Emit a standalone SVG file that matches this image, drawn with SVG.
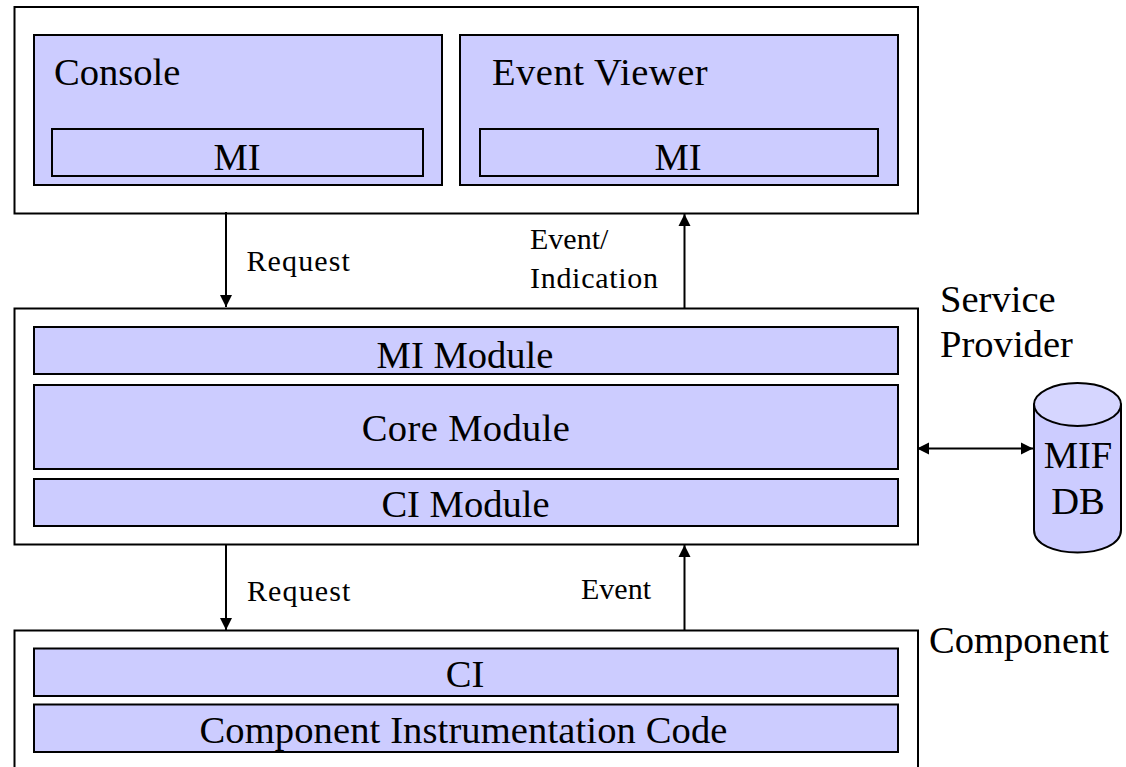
<svg xmlns="http://www.w3.org/2000/svg" width="1126" height="767" viewBox="0 0 1126 767">
<style>
.o{fill:#fff;stroke:#000;stroke-width:2}
.b{fill:#ccccff;stroke:#000;stroke-width:2}
.t{fill:#d6d6ff;stroke:#000;stroke-width:2}
text{font-family:"Liberation Serif","Times New Roman",serif;fill:#000}
.l{font-size:38.600px}
.s{font-size:30px}
.m{text-anchor:middle}
.c{fill:none;stroke:#000;stroke-width:2}
</style>
<defs>
<marker id="a" markerUnits="userSpaceOnUse" markerWidth="13" markerHeight="13" refX="12" refY="6.500" orient="auto-start-reverse"><path d="M0 0.500L12 6.500L0 12.500Z" fill="#000"/></marker>
</defs>
<rect width="1126" height="767" fill="#fff"/>
<g id="top"><rect class="o" x="14.500" y="7" width="903.500" height="206.500"/></g>
<g id="console"><rect class="b" x="34" y="35" width="408" height="150"/><text class="l" x="54" y="85">Console</text></g>
<g id="console-mi"><rect class="b" x="52" y="129" width="371" height="47"/><text class="l m" x="237" y="170">MI</text></g>
<g id="viewer"><rect class="b" x="460" y="35" width="438" height="150"/><text class="l" x="492" y="85" letter-spacing="0.500">Event Viewer</text></g>
<g id="viewer-mi"><rect class="b" x="480" y="129" width="398" height="47"/><text class="l m" x="678" y="170">MI</text></g>
<g id="provider"><rect class="o" x="14.500" y="308.500" width="903.500" height="236"/></g>
<g id="mi-module"><rect class="b" x="34" y="327" width="864" height="47"/><text class="l m" x="465" y="368">MI Module</text></g>
<g id="core"><rect class="b" x="34" y="385" width="864" height="84"/><text class="l m" x="466" y="441" letter-spacing="0.350">Core Module</text></g>
<g id="ci-module"><rect class="b" x="34" y="479" width="864" height="47"/><text class="l m" x="465.500" y="517">CI Module</text></g>
<g id="component"><rect class="o" x="14.500" y="630.500" width="903.500" height="150"/></g>
<g id="ci"><rect class="b" x="34" y="648.500" width="864" height="47.500"/><text class="l m" x="465" y="687">CI</text></g>
<g id="code"><rect class="b" x="34" y="704.500" width="864" height="47.500"/><text class="l m" x="463.500" y="743" letter-spacing="0.100">Component Instrumentation Code</text></g>
<g id="db">
<path class="b" d="M1034 404.500V530C1034 560 1121 560 1121 530V404.500Z"/>
<ellipse class="t" cx="1077.500" cy="404.500" rx="43.500" ry="21.500"/>
<text class="l m" x="1078" y="468">MIF</text><text class="l m" x="1078" y="514">DB</text>
</g>
<g id="connectors">
<path class="c" d="M226 212V307" marker-end="url(#a)"/>
<path class="c" d="M684.500 308V214" marker-end="url(#a)"/>
<path class="c" d="M226 545V630" marker-end="url(#a)"/>
<path class="c" d="M684.500 630V545" marker-end="url(#a)"/>
<path class="c" d="M917 448.500H1033" marker-start="url(#a)" marker-end="url(#a)"/>
</g>
<g id="labels">
<text class="s" x="246.500" y="271" letter-spacing="1.100">Request</text>
<text class="s" x="530" y="249">Event/</text>
<text class="s" x="530" y="288" letter-spacing="0.700">Indication</text>
<text class="s" x="247" y="601" letter-spacing="1.100">Request</text>
<text class="s" x="581" y="599">Event</text>
<text class="l" x="940" y="312">Service</text>
<text class="l" x="940" y="357">Provider</text>
<text class="l" x="929" y="653">Component</text>
</g>
</svg>
